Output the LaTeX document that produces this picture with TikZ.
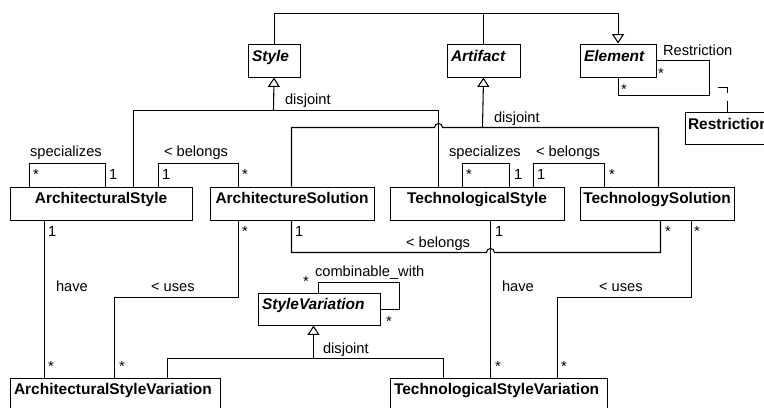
\documentclass[tikz,border=0pt]{standalone}
\usepackage{fontspec}
\setmainfont{Liberation Sans}
\usetikzlibrary{arrows.meta}
\begin{document}
\begin{tikzpicture}[x=0.75pt,y=-0.75pt,line width=0.8pt,
  every node/.style={font=\fontsize{11pt}{13pt}\selectfont},
  cls/.style={draw,line width=0.8pt,anchor=north west,inner sep=0pt},
  wh/.style 2 args={minimum width=#1*0.75pt,minimum height=#2*0.75pt},
  lbl/.style={anchor=base west,inner sep=0pt},
  cname/.style={inner sep=0pt,font=\fontsize{11.6pt}{13pt}\selectfont\bfseries},
  ctr/.style={anchor=base,inner sep=0pt,font=\fontsize{11.6pt}{13pt}\selectfont\bfseries},
  gen/.style={-{Triangle[open,length=7pt,width=9pt]}},
  assocdash/.style={dash pattern=on 0pt off 6pt on 11.25pt off 6pt on 30pt}]
\useasboundingbox (0,0) rectangle (764,407);
\clip (0,0) rectangle (764,407);
\fill[white] (0,0) rectangle (764,407);

\begin{scope}[shift={(0.5,0.5)}]
% ---- class boxes ----
\node[cls,wh={52}{33}]  (st)  at (247,43)  {};
\node[cls,wh={73}{33}]  (ar)  at (446,43)  {};
\node[cls,wh={76}{33}]  (el)  at (579,43)  {};
\node[cls,wh={120}{32}] (rs)  at (684,111) {};
\node[cls,wh={182}{33}] (as)  at (9,186)   {};
\node[cls,wh={164}{33}] (aso) at (209,186) {};
\node[cls,wh={174}{33}] (ts)  at (389,186) {};
\node[cls,wh={154}{33}] (tso) at (579,186) {};
\node[cls,wh={122}{32}] (sv)  at (257,292) {};
\node[cls,wh={210}{50}] (asv) at (9,377)   {};
\node[cls,wh={217}{50}] (tsv) at (389,377) {};

% ---- class names ----
\node[cname,anchor=base west] (st-t)  at ([shift={(4,18)}]st.north west)  {\textit{Style}};
\node[cname,anchor=base west] (ar-t)  at ([shift={(4,18)}]ar.north west)  {\textit{Artifact}};
\node[cname,anchor=base west] (el-t)  at ([shift={(4,18)}]el.north west)  {\textit{Element}};
\node[cname,anchor=base west] (rs-t)  at ([shift={(3,18)}]rs.north west)  {Restriction};
\node[ctr] (as-t)  at ([shift={(0,17)}]as.north)  {ArchitecturalStyle};
\node[ctr] (aso-t) at ([shift={(0,17)}]aso.north) {ArchitectureSolution};
\node[ctr] (ts-t)  at ([shift={(0,17)}]ts.north)  {TechnologicalStyle};
\node[ctr] (tso-t) at ([shift={(0,17)}]tso.north) {TechnologySolution};
\node[cname,anchor=base west] (sv-t)  at ([shift={(4,17)}]sv.north west)  {\textit{StyleVariation}};
\node[cname,anchor=base west] (asv-t) at ([shift={(4,17)}]asv.north west) {ArchitecturalStyleVariation};
\node[cname,anchor=base west] (tsv-t) at ([shift={(4,17)}]tsv.north west) {TechnologicalStyleVariation};

% ---- generalisation: Style, Artifact -> Element ----
\draw[gen] (st.north) |- (0,13 -| el.north) -- (el.north);
\draw (ar.north) -- (ar.north |- 0,13);

% ---- Element self association with association class ----
\draw (el.east) -| (709,95) -| (el.south);
\coordinate (rm) at (709,87);
\draw[assocdash] (rm) -| (727,0 |- rs.north);
\node[lbl] (l-restr) at (662,55) {Restriction};
\node[lbl] (m-el1) at (657,78) {*};
\node[lbl] (m-el2) at (620,94) {*};

% ---- generalisation of Style ----
\coordinate (sj) at (273,110);
\draw[gen] (sj) -- (st.south);
\draw (133,0 |- as.north) |- (438,110) -- (438,0 |- ts.north);
\node[lbl] (d-st) at (284,104) {disjoint};

% ---- generalisation of Artifact ----
\coordinate (aj) at (482,127);
\draw[gen] (aj) -- (ar.south);
\draw (291,0 |- aso.north) |- (434,127)
      arc[start angle=180,end angle=360,radius=4] -- (658,127) -- (658,0 |- tso.north);
\node[lbl] (d-ar) at (493,122) {disjoint};

% ---- associations above the second row ----
\draw (29,0 |- as.north) |- (105,163) -- (105,0 |- as.north);
\node[lbl] (l-sp1) at (29,156) {specializes};
\node[lbl] (m-sp1a) at (32,179) {*};
\node[lbl] (m-sp1b) at (108,179) {1};
\draw (158,0 |- as.north) |- (238,163) -- (238,0 |- aso.north);
\node[lbl] (l-be1) at (163,156) {< belongs};
\node[lbl] (m-be1a) at (161,179) {1};
\node[lbl] (m-be1b) at (241,179) {*};

\draw (462,0 |- ts.north) |- (509,163) -- (509,0 |- ts.north);
\node[lbl] (l-sp2) at (448,156) {specializes};
\node[lbl] (m-sp2a) at (465,179) {*};
\node[lbl] (m-sp2b) at (513,179) {1};
\draw (533,0 |- ts.north) |- (604,163) -- (604,0 |- tso.north);
\node[lbl] (l-be2) at (535,156) {< belongs};
\node[lbl] (m-be2a) at (536,179) {1};
\node[lbl] (m-be2b) at (608,179) {*};

% ---- associations below the second row ----
\draw (44,0 |- as.south) -- (44,0 |- asv.north);
\node[lbl] (m-ha1a) at (47,236) {1};
\node[lbl] (m-ha1b) at (47,371) {*};
\node[lbl] (l-ha1) at (55,291) {have};

\draw (238,0 |- aso.south) |- (114,297) -- (114,0 |- asv.north);
\node[lbl] (m-us1a) at (241,236) {*};
\node[lbl] (m-us1b) at (118,371) {*};
\node[lbl] (l-us1) at (150,291) {< uses};

\draw (291,0 |- aso.south) |- (486,252)
      arc[start angle=180,end angle=360,radius=4] -- (660,252) -- (660,0 |- tso.south);
\node[lbl] (m-be3a) at (294,236) {1};
\node[lbl] (m-be3b) at (664,236) {*};
\node[lbl] (l-be3) at (405,247) {< belongs};

\draw (490,0 |- ts.south) -- (490,0 |- tsv.north);
\node[lbl] (m-ha2a) at (494,236) {1};
\node[lbl] (m-ha2b) at (494,371) {*};
\node[lbl] (l-ha2) at (501,291) {have};

\draw (691,0 |- tso.south) |- (557,297) -- (557,0 |- tsv.north);
\node[lbl] (m-us2a) at (693,236) {*};
\node[lbl] (m-us2b) at (560,371) {*};
\node[lbl] (l-us2) at (598,291) {< uses};

% ---- StyleVariation ----
\draw (318,0 |- sv.north) |- (399,282) |- (sv.east);
\node[lbl] (l-comb) at (314,276) {combinable\_with};
\node[lbl] (m-cb1) at (302,286) {*};
\node[lbl] (m-cb2) at (385,326) {*};

\coordinate (vj) at (313,358);
\draw[gen] (vj) -- (313,0 |- sv.south);
\draw (167,0 |- asv.north) |- (443,358) -- (443,0 |- tsv.north);
\node[lbl] (d-sv) at (322,353) {disjoint};
\end{scope}
\end{tikzpicture}
\end{document}
